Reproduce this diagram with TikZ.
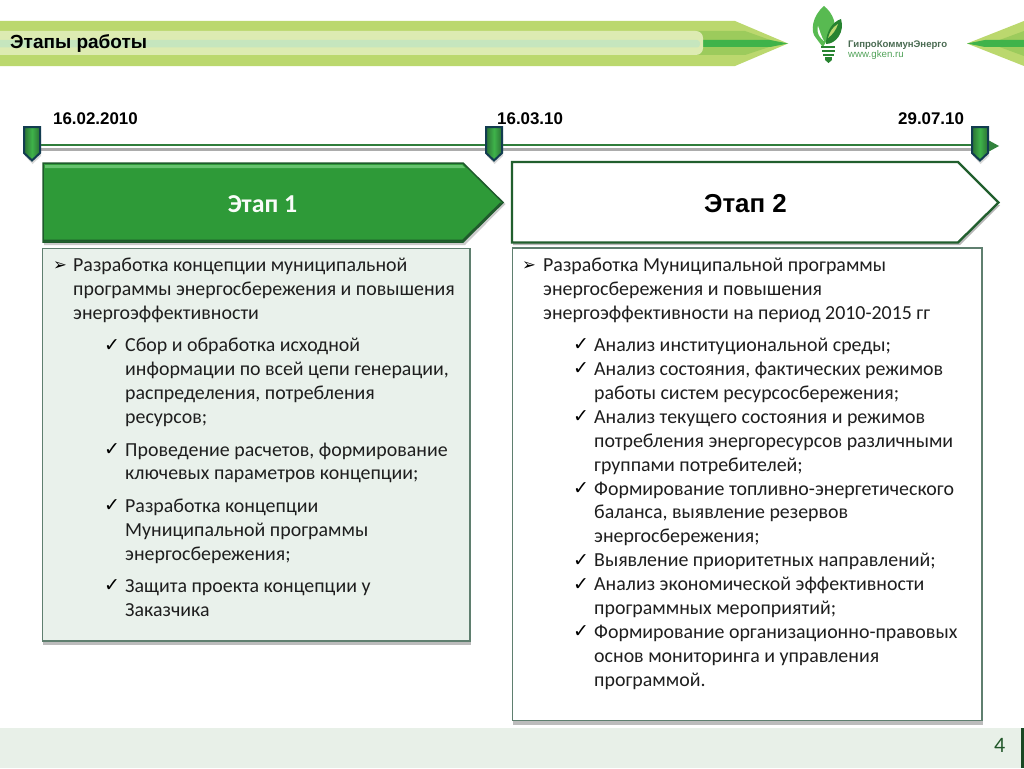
\documentclass[tikz,border=0pt]{standalone}
\usepackage{fontspec}
\setmainfont{Carlito}
\newfontfamily\arialf{Liberation Sans}
\newfontfamily\symf{DejaVu Sans}
\usetikzlibrary{calc}
\definecolor{lime}{HTML}{BBD86E}
\definecolor{limelight}{HTML}{DDEBB2}
\definecolor{limemid}{HTML}{9CCB5C}
\definecolor{paleg}{HTML}{C6E6BE}
\definecolor{midg}{HTML}{3FB34A}
\definecolor{stageg}{HTML}{2E9A38}
\definecolor{darkg}{HTML}{1F5A2C}
\definecolor{lineg}{HTML}{2F7D3A}
\definecolor{navy}{HTML}{123C50}
\definecolor{boxfill}{HTML}{E9F1EB}
\definecolor{boxline}{HTML}{5F7F6F}
\definecolor{band}{HTML}{E8F0E8}
\definecolor{txt}{HTML}{1E1E1E}
\tikzset{
 bodytext/.style={anchor=base west,inner sep=0pt,text=txt,font=\fontsize{19.9}{22}\selectfont},
 mark1/.style={anchor=base west,inner sep=0pt,text=black,font=\symf\fontsize{16.5}{18}\selectfont},
 mark2/.style={anchor=base west,inner sep=0pt,text=black,font=\symf\fontsize{19}{20}\selectfont},
 datelabel/.style={anchor=base west,inner sep=0pt,text=black,font=\arialf\bfseries\fontsize{16.9}{18}\selectfont},
 softshadow/.style={fill=gray!70,draw=none,opacity=.75},
 markerbox/.style={draw=navy,line width=2pt,left color=lineg!90!black,right color=lineg!90!black,middle color=midg},
}
\newcommand{\tline}[4]{\node[bodytext] (#1) at (#2,#3) {#4};}
\newcommand{\tarrow}[3]{\node[mark1] (#1) at (#2,#3) {➢};}
\newcommand{\tcheck}[3]{\node[mark2] (#1) at (#2,#3) {✓};}
\newcommand{\tmarker}[2]{\fill[gray!60,opacity=.5] (#2-7,135) -- (#2+9,135) -- (#2+9,156) -- (#2+.5,164) -- (#2-7,156) -- cycle;
 \path[markerbox] (#2-8,127) -- (#2+8,127) -- (#2+8,153) -- (#2,160.5) -- (#2-8,153) -- cycle;}
\begin{document}
\begin{tikzpicture}[x=1pt,y=-1pt]
\useasboundingbox (0,0) rectangle (1024,768);
\fill[white] (0,0) rectangle (1024,768);
% header band
\fill[lime] (0,21) -- (735,21) -- (788,43.5) -- (735,66) -- (0,66) -- cycle;
\fill[limemid] (695,31) -- (745,31) -- (780,43.5) -- (745,55) -- (695,55) -- cycle;
\fill[midg] (695,40) -- (770,40) -- (788,43.5) -- (770,47) -- (695,47) -- cycle;
\fill[limelight,rounded corners=7pt] (-12,31) rectangle (703,55);
\fill[paleg,rounded corners=3pt] (-12,40) rectangle (700,47.5);
% right band
\fill[lime] (1024,21) -- (967,43.5) -- (1024,66) -- cycle;
\fill[limemid] (1024,31) -- (990,43.5) -- (1024,56) -- cycle;
\fill[midg] (1024,40) -- (985,40) -- (967,43.5) -- (985,47) -- (1024,47) -- cycle;
\node[anchor=base west,inner sep=0pt,text=black,font=\arialf\bfseries\fontsize{19}{22}\selectfont] (title) at (10,48.5) {Этапы работы};
% logo
\fill[midg!80!lime] (824,6) .. controls (812,16) and (810,32) .. (816,38) .. controls (819,42) and (821,45) .. (823,47) .. controls (826,42) and (829,36) .. (832,32) .. controls (838,26) and (833,13) .. (824,6) -- cycle;
\fill[white] (818,26) .. controls (816,33) and (820,38) .. (824,41) .. controls (821,36) and (820,31) .. (818,26) -- cycle;
\fill[stageg!85!black] (841,19) .. controls (832,22) and (826,32) .. (826,44) .. controls (836,44) and (845,32) .. (841,19) -- cycle;
\fill[lime] (838,24) .. controls (833,27) and (830,31) .. (828,38) .. controls (833,34) and (836,30) .. (838,24) -- cycle;
\foreach \yy/\xa/\xb in {47/821/835,51/822/835,55/823/834,58.5/825/832}{\draw[stageg!85!black,line width=2.5pt] (\xa,\yy) -- (\xb,\yy);}
\fill[stageg!85!black] (825,60) -- (832,60) -- (828.5,63) -- cycle;
\node[anchor=base west,inner sep=0pt,text=darkg!55!gray,font=\arialf\bfseries\fontsize{9.6}{11}\selectfont] (logoa) at (848,47.5) {ГипроКоммунЭнерго};
\node[anchor=base west,inner sep=0pt,text=midg!70!gray,font=\arialf\fontsize{9.7}{11}\selectfont] (logob) at (848,58) {www.gken.ru};
% timeline
\fill[gray!65] (40,147.5) rectangle (990,151);
\draw[lineg,line width=2.3pt] (40,145) -- (990,145);
\fill[lineg!90!midg] (988,140) -- (999,146) -- (988,152) -- cycle;
\tmarker{a}{32}
\tmarker{b}{494}
\tmarker{c}{980}
\node[datelabel] (d1) at (53,124) {16.02.2010};
\node[datelabel] (d2) at (497,124) {16.03.10};
\node[datelabel] (d3) at (898,124) {29.07.10};
% stage 1
\fill[gray!80,opacity=.5] (44,165) -- (465,165) -- (505.5,204) -- (465,245) -- (44,245) -- cycle;
\path[draw=darkg,line width=1.5pt,fill=stageg] (43,163) -- (463,163) -- (503,202.5) -- (463,242) -- (43,242) -- cycle;
\fill[midg!80!white] (45,165) -- (462,165) -- (465,168) -- (45,168) -- cycle;
\draw[darkg,line width=2pt] (44,240.5) -- (463,240.5) -- (501,203);
\node[anchor=base,inner sep=0pt,text=white!90!paleg,font=\bfseries\fontsize{25.8}{28}\selectfont] (e1) at (262.5,212) {Этап 1};
% stage 2
\fill[gray!70,opacity=.8] (513,238) -- (958,238) -- (998,205) -- (1000,205) -- (960,245) -- (513,245) -- cycle;
\path[draw=darkg!85!lineg,line width=2.3pt,fill=white] (512,162) -- (958,162) -- (998.5,202.5) -- (958,242.5) -- (512,242.5) -- cycle;
\node[anchor=base,inner sep=0pt,text=black,font=\arialf\bfseries\fontsize{25.9}{28}\selectfont] (e2) at (745.5,212.5) {Этап 2};
% boxes
\fill[softshadow] (43,250) rectangle (471,645);
\path[draw=boxline,line width=1.3pt,fill=boxfill] (42.5,248.5) rectangle (470,641);
\fill[softshadow] (513,250) rectangle (983,724.5);
\path[draw=boxline,line width=1.3pt,fill=white] (512.5,248) rectangle (982,720.5);
% footer
\fill[band] (0,728) rectangle (1024,768);
\fill[darkg!80!black] (1021,728) rectangle (1024,768);
\node[anchor=base west,inner sep=0pt,text=lineg!70!black,font=\fontsize{22}{24}\selectfont] (pg) at (994,752.5) {4};
% left text
\tarrow{la}{53}{270}
\tline{l1}{73}{271}{Разработка концепции муниципальной}
\tline{l2}{73}{295}{программы энергосбережения и повышения}
\tline{l3}{73}{319}{энергоэффективности}
\tcheck{lb}{104}{351}
\tline{l4}{125}{351}{Сбор и обработка исходной}
\tline{l5}{125}{375}{информации по всей цепи генерации,}
\tline{l6}{125}{399}{распределения, потребления}
\tline{l7}{125}{423}{ресурсов;}
\tcheck{lc}{104}{455}
\tline{l8}{125}{456}{Проведение расчетов, формирование}
\tline{l9}{125}{479.5}{ключевых параметров концепции;}
\tcheck{ld}{104}{511}
\tline{l10}{125}{512}{Разработка концепции}
\tline{l11}{125}{536}{Муниципальной программы}
\tline{l12}{125}{560}{энергосбережения;}
\tcheck{le}{104}{591}
\tline{l13}{125}{592}{Защита проекта концепции у}
\tline{l14}{125}{616}{Заказчика}
% right text
\tarrow{ra}{522}{270}
\tline{r1}{543}{271}{Разработка Муниципальной программы}
\tline{r2}{543}{295}{энергосбережения и повышения}
\tline{r3}{543}{319}{энергоэффективности на период 2010-2015 гг}
\tcheck{rb}{573}{350}
\tline{r4}{594}{351}{Анализ институциональной среды;}
\tcheck{rc}{573}{374}
\tline{r5}{594}{375}{Анализ состояния, фактических режимов}
\tline{r6}{594}{399}{работы систем ресурсосбережения;}
\tcheck{rd}{573}{422}
\tline{r7}{594}{423}{Анализ текущего состояния и режимов}
\tline{r8}{594}{447}{потребления энергоресурсов различными}
\tline{r9}{594}{471}{группами потребителей;}
\tcheck{re}{573}{494}
\tline{r10}{594}{495}{Формирование топливно-энергетического}
\tline{r11}{594}{518.5}{баланса, выявление резервов}
\tline{r12}{594}{542.5}{энергосбережения;}
\tcheck{rf}{573}{566}
\tline{r13}{594}{566.5}{Выявление приоритетных направлений;}
\tcheck{rg}{573}{590}
\tline{r14}{594}{590.5}{Анализ экономической эффективности}
\tline{r15}{594}{614.5}{программных мероприятий;}
\tcheck{rh}{573}{637}
\tline{r16}{594}{638}{Формирование организационно-правовых}
\tline{r17}{594}{662}{основ мониторинга и управления}
\tline{r18}{594}{686}{программой.}
\end{tikzpicture}
\end{document}
